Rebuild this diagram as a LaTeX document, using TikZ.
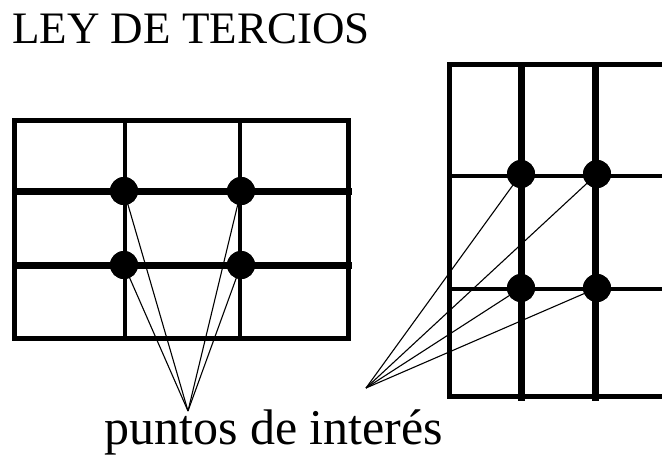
\documentclass[tikz,border=0pt]{standalone}
\usepackage{fontspec}
\setmainfont{Liberation Serif}
\begin{document}
\begin{tikzpicture}[x=1pt,y=-1pt,
  frame/.style={line width=5pt},
  thinln/.style={line width=3.5pt},
  thickln/.style={line width=7pt},
  ray/.style={line width=1.1pt},
  dot/.style={circle,fill=black,inner sep=0pt,minimum size=28pt},
  lbl/.style={inner sep=0pt,anchor=base west}]
\useasboundingbox (0,0) rectangle (662,456);
\clip (0,0) rectangle (662,456);
% title
\node[lbl,font=\fontsize{45}{50}\selectfont] (title) at (12,43) {LEY DE TERCIOS};
% left grid
\draw[thinln] (125,120) -- (125,338);
\draw[thinln] (240,120) -- (240,338);
\draw[thickln] (14,191) -- (352,191);
\draw[thickln] (14,265) -- (352,265);
\draw[frame] (14,120) rectangle (348,338);
% right grid
\draw[thinln] (449,176) -- (680,176);
\draw[thinln] (449,289) -- (680,289);
\draw[thickln] (521,64) -- (521,401);
\draw[thickln] (595,64) -- (595,401);
\draw[frame] (449,64) rectangle (680,396);
% points
\coordinate (cl) at (188,411);
\coordinate (cr) at (366,388);
\node[dot] (l1) at (124,191) {};
\node[dot] (l2) at (241,191) {};
\node[dot] (l3) at (124,265) {};
\node[dot] (l4) at (241,265) {};
\node[dot] (r1) at (521,174) {};
\node[dot] (r2) at (597,174) {};
\node[dot] (r3) at (521,288) {};
\node[dot] (r4) at (597,288) {};
\foreach \n in {l1,l2,l3,l4} \draw[ray] (\n.center) -- (cl);
\foreach \n in {r1,r2,r3,r4} \draw[ray] (\n.center) -- (cr);
\foreach \n in {l1,l2,l3,l4,r1,r2,r3,r4} \fill (\n) circle (14pt);
% label
\node[lbl,font=\fontsize{50}{55}\selectfont] (pts) at (104,444) {puntos de interés};
\end{tikzpicture}
\end{document}
